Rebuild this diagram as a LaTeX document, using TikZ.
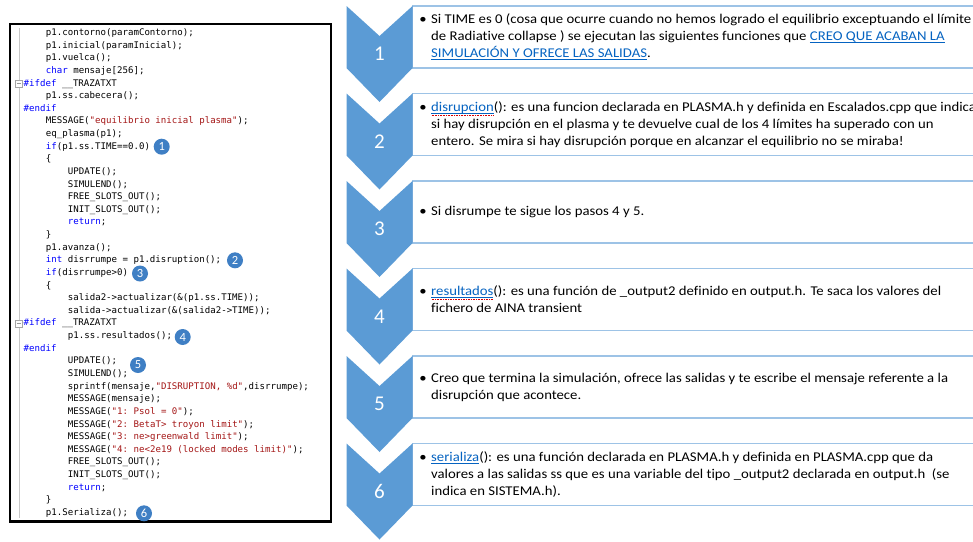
\documentclass[tikz,border=0pt]{standalone}
\usepackage{fontspec}
\setmainfont{Carlito}
\setmonofont{DejaVu Sans Mono}
\newfontfamily\boxfont[FakeStretch=1.1,Ligatures=NoCommon]{Carlito}
\definecolor{chev}{HTML}{5B9BD5}
\definecolor{boxline}{HTML}{9DC3E6}
\definecolor{linkblue}{HTML}{0563C1}
\definecolor{dotblue}{HTML}{3F7FC4}
\definecolor{kwblue}{HTML}{0000FF}
\definecolor{strred}{HTML}{A31515}
\definecolor{gutter}{HTML}{C8C8C8}
% syntax colouring for the code listing
\newcommand\kw[1]{\textcolor{kwblue}{#1}}
\newcommand\st[1]{\textcolor{strred}{#1}}
% hyperlink-style words, with and without a spelling squiggle
\newsavebox\lnkbox
\newsavebox\splbox
\newcommand\lnk[1]{\sbox\lnkbox{\color{linkblue}#1}\rlap{\color{linkblue}\rule[-2.1pt]{\wd\lnkbox}{0.6pt}}\usebox\lnkbox}
\newcommand\lnkx[1]{\sbox\splbox{#1}\rlap{\color{red!85!black}\raisebox{-3.9pt}{\hbox to \wd\splbox{\xleaders\hbox to 1.6pt{\hss\rule{0.8pt}{0.7pt}\hss}\hfill}}}\lnk{#1}}
% one line of code: number, x position, text
\newcommand\cl[3]{\node[codeline] (c#1) at (#2,{35.5+(#1-1)*12.63}) {#3};}
\newcommand\bul{\llap{•\hspace{4.4pt}}}
\begin{document}
\begin{tikzpicture}[x=1pt,y=-1pt,
  codeline/.style={anchor=base west,inner sep=0pt,font=\fontsize{9.1}{11}\ttfamily},
  numdot/.style={circle,fill=dotblue,text=white,inner sep=0pt,minimum size=16pt,font=\fontsize{12.5}{12.5}\selectfont},
  chevnum/.style={text=white,inner sep=0pt,font=\fontsize{21}{21}\selectfont},
  boxtext/.style={anchor=west,align=left,inner sep=0pt,font=\fontsize{13.4}{17}\boxfont},
  foldbox/.style={draw=gray!70,fill=white,line width=0.6pt,minimum size=7pt,inner sep=0pt}]
\useasboundingbox (0,0) rectangle (973,541);
\clip (0,0) rectangle (973,541);

% ---------- code listing ----------
\draw[gutter,line width=0.6pt] (19,28) -- (19,518);
\node[foldbox] (f1) at (19,83.5) {};
\draw[gray!80,line width=0.6pt] (f1.west) ++(1.6,0) -- ++(3.8,0);
\node[foldbox] (f2) at (19,323.5) {};
\draw[gray!80,line width=0.6pt] (f2.west) ++(1.6,0) -- ++(3.8,0);

\cl{1}{45.7}{p1.contorno(paramContorno);}
\cl{2}{45.7}{p1.inicial(paramInicial);}
\cl{3}{45.7}{p1.vuelca();}
\cl{4}{45.7}{\kw{char} mensaje[256];}
\cl{5}{23.5}{\kw{\#ifdef} \_\_TRAZATXT}
\cl{6}{45.7}{p1.ss.cabecera();}
\cl{7}{23.5}{\kw{\#endif}}
\cl{8}{45.7}{MESSAGE(\st{"equilibrio inicial plasma"});}
\cl{9}{45.7}{eq\_plasma(p1);}
\cl{10}{45.7}{\kw{if}(p1.ss.TIME==0.0)}
\cl{11}{45.7}{\{}
\cl{12}{67.7}{UPDATE();}
\cl{13}{67.7}{SIMULEND();}
\cl{14}{67.7}{FREE\_SLOTS\_OUT();}
\cl{15}{67.7}{INIT\_SLOTS\_OUT();}
\cl{16}{67.7}{\kw{return};}
\cl{17}{45.7}{\}}
\cl{18}{45.7}{p1.avanza();}
\cl{19}{45.7}{\kw{int} disrrumpe = p1.disruption();}
\cl{20}{45.7}{\kw{if}(disrrumpe>0)}
\cl{21}{45.7}{\{}
\cl{22}{67.7}{salida2->actualizar(\&(p1.ss.TIME));}
\cl{23}{67.7}{salida->actualizar(\&(salida2->TIME));}
\cl{24}{23.5}{\kw{\#ifdef} \_\_TRAZATXT}
\cl{25}{67.7}{p1.ss.resultados();}
\cl{26}{23.5}{\kw{\#endif}}
\cl{27}{67.7}{UPDATE();}
\cl{28}{67.7}{SIMULEND();}
\cl{29}{67.7}{sprintf(mensaje,\st{"DISRUPTION, \%d"},disrrumpe);}
\cl{30}{67.7}{MESSAGE(mensaje);}
\cl{31}{67.7}{MESSAGE(\st{"1: Psol = 0"});}
\cl{32}{67.7}{MESSAGE(\st{"2: BetaT> troyon limit"});}
\cl{33}{67.7}{MESSAGE(\st{"3: ne>greenwald limit"});}
\cl{34}{67.7}{MESSAGE(\st{"4: ne<2e19 (locked modes limit)"});}
\cl{35}{67.7}{FREE\_SLOTS\_OUT();}
\cl{36}{67.7}{INIT\_SLOTS\_OUT();}
\cl{37}{67.7}{\kw{return};}
\cl{38}{45.7}{\}}
\cl{39}{45.7}{p1.Serializa();}

\draw[line width=2.2pt] (10,24) rectangle (331,521.5);

% numbered callouts in the listing
\node[numdot] (d1) at (161.7,146.7) {1};
\node[numdot] (d2) at (235,260.3) {2};
\node[numdot] (d3) at (140,273.5) {3};
\node[numdot] (d4) at (182.7,337) {4};
\node[numdot] (d5) at (138,365) {5};
\node[numdot] (d6) at (144,513.3) {6};

% ---------- chevron list ----------
\foreach \i/\t in {1/6,2/93.5,3/181,4/268.5,5/356,6/443.5}{
  \filldraw[fill=white,draw=boxline,line width=1.2pt] (412.5,\t) rectangle (990,\t+62);
  \fill[chev] (346.5,\t) -- (379.5,\t+30) -- (412.5,\t) -- (412.5,\t+62)
        -- (379.5,\t+96) -- (346.5,\t+62) -- cycle;
  \node[chevnum] (n\i) at (379.5,\t+48) {\i};
}

\node[boxtext] (t1) at (431,37) {\bul Si TIME es 0 (cosa que ocurre cuando no hemos logrado el equilibrio exceptuando el límite\\
de Radiative collapse ) se ejecutan las siguientes funciones que \lnk{CREO QUE ACABAN LA}\\
\lnk{SIMULACIÓN Y OFRECE LAS SALIDAS}.};
\node[boxtext] (t2) at (431,124.5) {\bul\lnkx{disrupcion}(): es una funcion declarada en PLASMA.h y definida en Escalados.cpp que indica\\
si hay disrupción en el plasma y te devuelve cual de los 4 límites ha superado con un\\
entero. Se mira si hay disrupción porque en alcanzar el equilibrio no se miraba!};
\node[boxtext] (t3) at (431,212) {\bul Si disrumpe te sigue los pasos 4 y 5.};
\node[boxtext] (t4) at (431,299.5) {\bul\lnkx{resultados}(): es una función de \_output2 definido en output.h. Te saca los valores del\\
fichero de AINA transient};
\node[boxtext] (t5) at (431,387) {\bul Creo que termina la simulación, ofrece las salidas y te escribe el mensaje referente a la\\
disrupción que acontece.};
\node[boxtext] (t6) at (431,474.5) {\bul\lnk{serializa}(): es una función declarada en PLASMA.h y definida en PLASMA.cpp que da\\
valores a las salidas ss que es una variable del tipo \_output2 declarada en output.h~~(se\\
indica en SISTEMA.h).};
\end{tikzpicture}
\end{document}
